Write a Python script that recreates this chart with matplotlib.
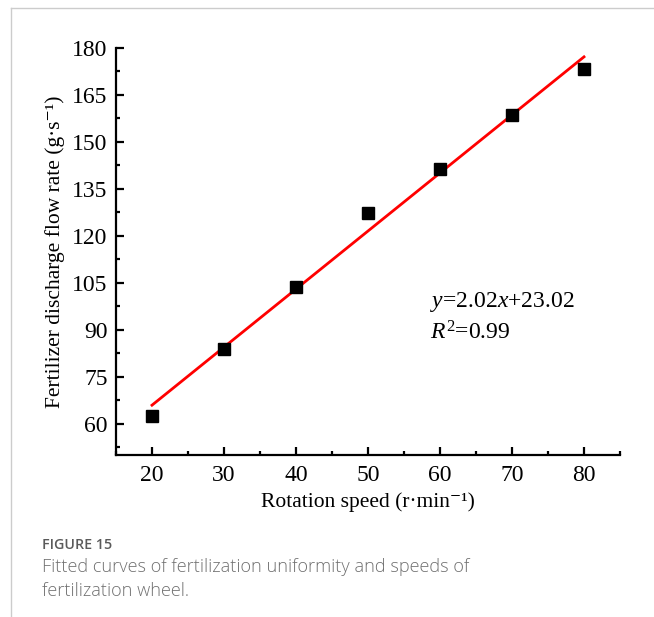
import matplotlib
matplotlib.use("Agg")
import matplotlib.pyplot as plt
from matplotlib.lines import Line2D
from matplotlib.ticker import MultipleLocator
import numpy as np

# Rotation speed (r/min) vs. fertilizer discharge flow rate (g/s)
speed = [20, 30, 40, 50, 60, 70, 80]
flow = [62.6, 83.9, 103.7, 127.3, 141.4, 158.6, 173.3]

SERIF = ["Liberation Serif", "DejaVu Serif"]
W, H = 654, 617

plt.rcParams["mathtext.fontset"] = "custom"
plt.rcParams["mathtext.rm"] = "Liberation Serif"
plt.rcParams["mathtext.it"] = "Liberation Serif:italic"

fig = plt.figure(figsize=(W / 100, H / 100), dpi=100)
ax = fig.add_axes([116 / W, 1 - 455 / H, (620 - 116) / W, (455 - 48) / H])

# fitted line
k, b = np.polyfit(speed, flow, 1)
xs = np.array([speed[0], speed[-1]])
ax.plot(xs, k * xs + b, color="#ff0000", linewidth=2.0, zorder=2)
ax.plot(speed, flow, linestyle="none", marker="s", markersize=8.5,
        color="black", zorder=3)

ax.set_xlim(15, 85)
ax.set_ylim(50, 180)
ax.xaxis.set_major_locator(MultipleLocator(10))
ax.xaxis.set_minor_locator(MultipleLocator(5))
ax.yaxis.set_major_locator(MultipleLocator(15))
ax.yaxis.set_minor_locator(MultipleLocator(7.5))
ax.set_xticks(range(20, 81, 10))
ax.set_yticks(range(60, 181, 15))

for s in ("top", "right"):
    ax.spines[s].set_visible(False)
for s in ("left", "bottom"):
    ax.spines[s].set_linewidth(1.6)

ax.tick_params(which="major", direction="in", length=6, width=1.6,
               labelsize=17)
ax.tick_params(axis="x", which="major", pad=7)
ax.tick_params(axis="y", which="major", pad=6)
ax.tick_params(which="minor", direction="in", length=3, width=1.6)
for lab in ax.get_xticklabels() + ax.get_yticklabels():
    lab.set_fontfamily(SERIF)

ax.set_xlabel("Rotation speed (r·min⁻¹)", fontsize=15.5,
              fontfamily=SERIF, labelpad=5)
ax.set_ylabel("Fertilizer discharge flow rate (g·s⁻¹)", fontsize=15.5,
              fontfamily=SERIF, labelpad=5)

ax.text(0.623, 0.376, "$y$=2.02$x$+23.02", transform=ax.transAxes,
        fontsize=17, fontfamily=SERIF, va="center", ha="left")
ax.text(0.623, 0.30, "$R^2$=0.99", transform=ax.transAxes,
        fontsize=17, fontfamily=SERIF, va="center", ha="left")

# caption
fig.text(42 / W, 1 - 545 / H, "FIGURE 15", fontsize=10.3, color="#5a5a5a",
         fontfamily="Open Sans", fontweight="semibold", va="center")
fig.text(42 / W, 1 - 567 / H,
         "Fitted curves of fertilization uniformity and speeds of",
         fontsize=13.1, color="#707070", fontfamily="Open Sans",
         fontweight="light", va="center")
fig.text(42 / W, 1 - 591 / H, "fertilization wheel.",
         fontsize=13.1, color="#707070", fontfamily="Open Sans",
         fontweight="light", va="center")

# page frame
fig.add_artist(Line2D([11 / W, 1], [1 - 8 / H, 1 - 8 / H], color="#cccccc",
                      linewidth=1, transform=fig.transFigure))
fig.add_artist(Line2D([11 / W, 11 / W], [0, 1 - 8 / H], color="#cccccc",
                      linewidth=1, transform=fig.transFigure))

fig.savefig("out.png", dpi=100)
